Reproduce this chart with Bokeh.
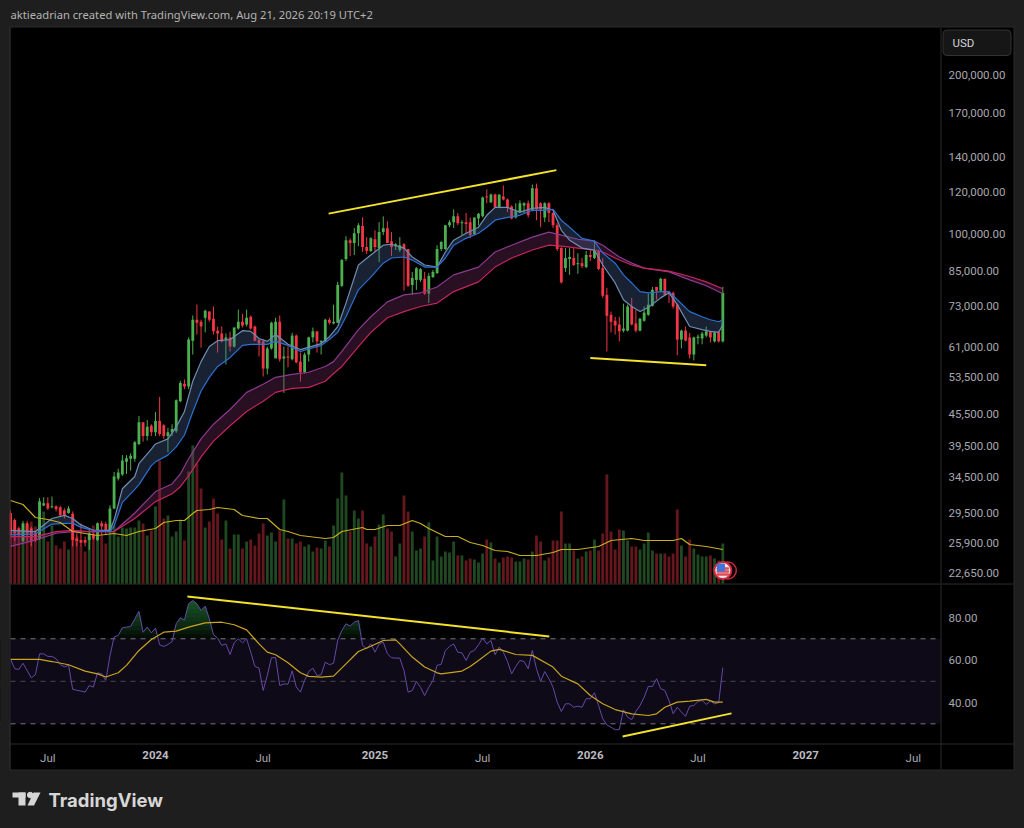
from bokeh.plotting import figure
from bokeh.layouts import column
from bokeh.models import ColumnDataSource, Range1d, LinearScale, FixedTicker, NumeralTickFormatter, LinearAxis
from bokeh.core.properties import value
from bokeh.embed import file_html
from bokeh.resources import INLINE

# ---- weekly bars: index 0 is the week of 1 Jan 2024
first_week = -35
opens = [29.5,28.6,27.6,26.1,28.2,27.6,27.0,26.4,30.5,30.8,30.25,30.4,30.25,29.85,29.5,29.4,26.4,26.2,26.2,26.2,26.8,26.2,28.2,28.1,
 27.2,30.1,34.3,34.9,36.9,37.4,37.4,39.9,43.9,41.3,43.2,42.0,44.1,43.3,41.3,42.0,42.2,48.1,51.9,51.3,62.7,68.7,68.1,69.3,71.2,69.0,65.5,64.7,
 63.0,63.6,61.1,66.1,68.1,67.3,69.6,66.7,63.0,62.5,55.5,60.6,58.0,68.1,58.0,58.5,57.8,64.1,57.2,54.6,59.0,63.6,65.3,62.2,62.5,68.7,67.6,67.8,
 79.7,89.6,97.3,96.1,100.3,103.5,94.4,92.8,97.7,94.0,100.8,102.5,96.9,94.8,93.2,95.6,93.6,80.0,81.8,81.8,82.2,77.0,82.8,84.3,93.6,93.6,
 103.9,105.3,108.0,104.8,105.3,105.3,99.9,107.0,108.0,117.8,114.9,118.8,112.4,117.8,116.3,112.8,107.5,110.0,113.3,114.4,110.9,122.1,114.4,107.5,114.4,
 109.6,103.9,94.0,86.1,89.6,90.0,87.6,88.0,86.5,91.2,90.0,92.8,86.1,76.6,70.2,68.4,67.3,65.5,65.5,72.8,67.6,65.5,68.4,70.2,73.0,79.3,78.0,82.2,77.7,77.3,
 73.4,63.0,65.5,63.6,59.0,63.4,63.3,64.1,65.3,62.5,65.0,62.5]
highs = [29.85,28.8,27.8,28.5,28.5,27.8,27.2,31.5,31.6,31.6,31.7,30.5,30.4,30.1,30.4,29.7,27.0,28.2,26.6,27.6,27.0,28.3,28.5,28.4,
 30.5,35.3,35.8,38.0,38.0,38.3,40.4,45.1,43.9,44.3,43.5,45.9,49.0,43.5,42.8,43.5,48.5,52.6,52.9,63.6,70.0,73.4,68.7,71.8,71.2,72.8,66.7,66.7,
 64.7,65.2,66.4,71.8,70.5,71.8,70.0,67.0,63.0,63.0,61.1,68.1,69.3,70.0,61.1,61.1,64.9,64.4,59.5,59.5,63.8,66.4,65.3,62.7,69.0,69.3,73.4,81.1,
 89.6,99.0,98.1,102.6,104.8,107.5,98.6,98.6,101.6,105.3,108.0,105.7,100.8,96.1,98.6,96.1,93.6,84.7,86.5,86.1,84.7,84.3,85.4,95.2,96.9,103.9,
 106.2,111.3,109.6,106.2,109.6,107.5,107.5,109.6,117.8,121.5,119.3,119.3,118.8,123.6,116.8,113.3,114.4,115.8,114.9,115.8,124.1,124.6,114.9,114.9,114.9,
 110.0,104.8,94.4,94.0,94.0,94.0,91.9,90.0,92.8,93.2,97.3,93.2,90.0,79.0,71.2,69.6,69.6,73.7,73.4,75.6,71.8,69.3,72.8,77.0,79.3,79.3,82.5,82.2,78.0,77.7,
 73.7,65.8,66.7,64.9,63.8,64.4,65.2,66.7,65.3,65.3,65.5,79.3]
lows = [26.4,26.1,26.7,25.9,26.1,25.5,26.0,26.2,30.4,29.9,30.1,29.7,29.1,28.8,29.4,25.5,25.5,25.5,25.5,25.1,26.2,26.1,26.8,26.8,
 27.1,30.0,34.0,34.7,35.0,35.5,36.9,39.7,40.3,40.5,41.3,41.3,41.3,40.8,38.5,41.3,41.9,47.9,50.7,50.7,59.0,64.4,60.8,65.0,68.1,64.4,59.5,62.2,
 56.5,59.8,60.8,65.8,66.4,66.7,65.8,62.5,58.5,53.6,54.1,60.3,60.3,57.2,49.9,55.8,57.5,56.8,52.4,54.3,57.2,62.2,59.5,59.0,62.2,67.3,67.3,67.8,
 79.3,88.8,90.8,91.2,94.8,92.4,91.6,92.4,92.4,88.4,99.5,96.1,90.8,93.2,92.4,78.0,79.3,76.6,78.3,81.1,76.6,73.9,82.5,83.9,92.8,93.2,
 103.0,102.6,103.9,99.5,100.3,98.1,99.5,103.9,107.5,114.4,114.4,111.9,111.9,115.8,110.0,106.6,107.0,109.6,109.6,107.5,110.4,106.2,103.0,105.3,105.3,
 102.6,92.8,80.5,84.7,83.6,86.9,84.0,86.1,86.1,88.8,89.6,85.4,75.6,59.8,65.0,64.4,62.5,65.0,65.3,67.0,65.0,65.3,68.1,69.9,72.8,75.0,77.7,76.3,73.9,72.1,
 58.8,60.6,62.5,58.0,57.5,61.7,61.7,63.6,62.2,62.2,62.2,62.2]
closes = [26.8,27.0,26.8,28.2,27.0,26.1,26.2,31.0,30.8,30.1,30.4,30.0,29.2,29.1,30.1,26.2,26.1,25.9,25.9,27.0,26.4,28.2,27.8,27.2,
 30.1,34.6,35.2,37.1,37.5,37.9,40.2,43.9,41.3,43.0,42.0,44.1,41.7,41.3,42.0,42.6,48.3,52.1,51.3,63.0,68.7,67.8,66.7,71.5,68.7,65.3,64.7,62.5,
 63.6,61.1,66.4,68.1,67.0,69.3,66.1,62.7,61.9,55.5,60.6,67.8,68.1,57.8,58.5,58.2,64.1,57.0,54.6,59.0,63.6,65.3,62.5,62.7,68.7,67.8,68.1,80.0,
 89.2,97.3,96.1,100.3,103.9,94.4,92.8,98.1,94.4,100.8,102.5,96.1,94.4,95.6,95.2,93.6,79.7,82.5,86.1,85.7,77.0,83.2,84.7,93.6,96.5,103.9,
 105.3,108.0,104.8,105.3,104.4,99.5,107.5,109.2,117.3,117.3,118.8,112.4,118.8,116.3,112.3,107.0,110.4,114.4,114.4,108.5,122.1,111.4,111.4,114.4,109.6,
 103.9,93.6,80.9,90.0,90.4,87.3,88.0,86.9,91.2,90.4,92.8,85.8,76.3,69.9,68.1,67.0,65.3,66.1,72.8,67.3,65.5,69.0,70.9,73.4,78.3,78.0,82.2,76.6,77.0,72.8,
 63.0,65.5,62.7,59.0,63.6,63.8,64.7,65.3,63.6,65.0,62.5,77.3]
volumes = [68,60,52,58,60,62,57,83,72,42,58,38,35,42,34,63,47,38,32,47,58,47,48,40,60,58,47,56,55,56,56,63,60,48,53,77,123,65,68,47,52,64,43,112,138,120,95,56,62,85,70,44,
 63,35,49,49,35,42,44,38,50,60,48,51,42,53,84,45,45,40,42,37,39,32,36,35,43,37,58,85,111,88,52,73,65,73,40,37,47,59,69,55,52,27,40,88,72,52,33,35,47,61,23,47,27,32,31,42,28,28,
 23,25,24,21,30,44,41,25,21,26,27,26,22,22,25,24,32,48,42,23,26,43,43,72,40,40,33,25,27,32,33,44,33,50,109,52,34,54,53,43,37,37,34,40,51,33,30,30,30,27,30,74,38,27,44,35,29,27,27,28,25,23,40]
vol_ma_idx = [-35,-32,-29,-26,-23,-20,-17,-14,-10,-7,-4,0,2,5,7,9,10,13,15,19,21,25,27,30,32,35,39,41,43,45,50,51,53,56,59,62,64,66,70,73,76,79,82,85,88,92,96,98,102,107,110,115,118,125,127,129,133,137]
vol_ma = [83,79,66,64,61,52,50,48,50,48,52,55,61,63,63,70,73,74,76,74,68,65,65,54,52,48,46,45,46,52,56,54,54,58,58,63,60,55,47,47,41,38,33,32,28,28,31,34,34,37,43,45,43,43,45,39,37,34]

# ---- moving-average ribbons (thousand USD)
fast_idx = [-35,-29,-25,-22,-20,-18,-15,-11,-10,-8,-5,-4,-1,0,3,5,7,9,11,13,15,18,21,23,25,27,29,32,35,40,42,44,46,49,52,55,57,60,62,65,68,70,72,75,78,80,82,85,88,91,94,96,98,100,103,106,108,111,113,115,117,119,122,124,126,129,132,134,136,137]
fast_light = [27.35,27.2,28.8,29.2,28.8,28.0,27.35,27.35,28.6,32.8,34.6,36.6,39.0,39.9,40.8,43.0,46.0,52.5,57.2,61.1,62.7,63.0,65.5,65.3,63.3,62.5,64.4,61.7,60.3,61.9,63.8,66.7,73.9,87.3,91.2,95.2,95.6,94.0,90.4,87.3,86.5,92.4,97.3,100.3,103.0,108.5,112.3,112.3,110.0,111.9,112.3,110.9,101.6,97.3,94.0,93.2,87.3,80.7,75.0,72.8,71.2,72.5,75.6,77.3,73.4,66.7,65.8,65.3,65.0,67.3]
fast_blue = [26.8,26.9,28.1,28.2,28.2,27.7,27.35,27.2,27.85,30.9,32.7,33.4,36.3,36.9,38.0,39.4,41.5,45.9,50.3,53.4,56.0,58.2,61.4,61.7,61.7,61.7,62.5,61.4,59.8,61.4,63.0,65.0,69.6,78.3,82.8,88.0,90.0,90.4,89.2,86.5,86.5,90.0,95.2,98.1,100.3,103.0,106.2,107.5,108.5,110.9,110.9,111.4,106.2,103.0,98.1,96.9,92.0,88.0,83.6,80.7,77.7,77.3,77.7,77.7,75.0,71.2,69.6,68.7,68.1,68.7]
slow_idx = [-35,-29,-24,-20,-16,-10,-5,0,4,6,8,11,14,18,22,26,29,33,37,41,43,45,49,52,56,60,64,68,72,78,82,86,91,95,98,102,106,108,112,115,118,124,129,133,137]
slow_purple = [25.5,26.2,27.0,27.2,27.2,27.2,29.5,32.4,33.5,35.0,37.4,40.8,43.5,46.4,50.0,51.8,53.4,54.1,54.6,56.0,57.2,59.8,65.8,69.6,74.3,76.6,77.3,79.3,83.6,86.5,92.4,95.2,98.6,100.8,99.5,97.7,96.9,95.2,90.4,88.0,86.1,84.7,81.8,79.7,77.0]
slow_pink = [26.6,26.6,27.2,27.35,27.2,27.2,28.8,31.0,32.1,33.1,34.7,37.7,40.4,43.2,46.0,48.1,50.0,50.9,51.1,52.5,54.3,56.0,61.1,65.0,69.3,71.2,72.8,73.9,77.7,81.1,86.5,90.0,93.2,95.2,94.8,94.0,93.2,92.4,89.2,87.3,86.1,85.0,83.0,81.1,78.7]

# ---- RSI
rsi = [60.3,55.9,55.6,58.5,55.1,51.6,53.1,62.9,62.9,61.7,61.7,60.6,57.9,56.8,57.5,46.2,45.8,45.4,44.9,48.0,47.3,54.0,53.5,50.4,62.0,70.8,71.6,75.2,75.5,75.8,79.4,82.9,73.1,75.5,72.8,
 75.0,67.2,66.4,67.3,68.7,77.1,79.9,78.9,86.5,88.0,86.5,83.3,85.4,79.4,71.9,70.3,66.9,67.6,62.6,68.1,70.0,68.1,70.0,63.7,57.0,56.2,45.7,52.7,61.1,61.1,48.0,48.7,48.7,54.9,47.3,44.9,50.4,54.6,56.2,52.7,53.1,59.0,57.8,58.5,69.2,
 73.9,77.1,76.0,77.8,78.6,66.9,65.3,67.6,63.7,67.6,68.4,62.9,61.1,60.9,60.9,55.1,44.9,45.6,50.0,47.2,43.3,47.2,50.4,57.5,58.0,64.5,66.4,67.6,63.7,63.4,59.8,63.7,64.5,67.2,70.3,67.6,69.2,62.5,66.1,63.7,59.3,53.5,57.0,59.8,59.3,55.9,64.5,55.9,50.0,54.6,51.2,47.2,
 40.2,35.8,39.4,39.4,37.8,38.3,37.8,41.8,41.8,44.6,38.6,32.4,29.5,28.4,27.2,27.3,36.6,33.1,32.0,35.8,38.6,42.5,47.6,47.6,51.2,46.5,45.7,41.0,34.7,37.8,35.5,33.5,38.3,38.6,40.5,41.0,39.1,40.7,39.4,39.9,56.4]
rsi_ma_idx = [-35,-28,-25,-21,-17,-14,-12,-9,-7,-4,-1,2,5,8,12,16,19,22,25,27,29,32,35,37,40,43,46,49,52,55,58,59,62,65,68,69,74,76,78,81,83,87,91,96,98,102,105,108,111,115,119,121,123,126,129,133,135,137]
rsi_ma = [60.3,60.3,59.3,57.8,54.8,53.5,52.0,54.0,57.5,64.5,69.7,73.1,73.6,75.5,77.5,77.8,76.6,74.2,67.6,63.7,62.5,58.7,54.0,52.3,52.0,52.4,58.2,64.0,66.5,69.2,69.5,67.6,61.4,56.7,54.0,53.5,54.8,57.0,59.8,64.2,65.0,62.6,62.2,56.7,52.4,48.8,43.3,39.4,36.7,34.7,33.9,34.7,37.8,40.2,40.7,41.5,40.2,40.2]
rsi_levels = [70, 50, 30]

# ---- drawn trend lines
price_trends = [([41.8, 96.8], [109.3, 132.2]), ([105.0, 133.0], [58.1, 56.3])]
rsi_trends = [([7.7, 95.1], [89.9, 71.1]), ([112.8, 139.1], [24.0, 34.9])]

# ---- axis ticks
price_ticks = [200000,170000,140000,120000,100000,85000,73000,61000,53500,45500,39500,34500,29500,25900,22650]
rsi_ticks = [80, 60, 40]
month_ticks = {-26: "Jul", 26: "Jul", 79: "Jul", 131: "Jul", 183: "Jul"}
year_ticks = {0: "2024", 53: "2025", 105: "2026", 157: "2027"}
header = "aktieadrian created with TradingView.com, Aug 21, 2026 20:19 UTC+2"
event_idx = 137

BG = "#1e1e1e"; SEP = "#2b2b2b"; UP = "#4caf50"; DOWN = "#f23645"
AXTXT = "#a8a8ac"; FONT = "Roboto"; AX_X = 189.57

n = len(closes)
xs = [first_week + i for i in range(n)]
assert len(opens) == len(highs) == len(lows) == n == len(volumes) == len(rsi)
k = lambda a: [v * 1000 for v in a]
def side(keep):
    ids = [i for i in range(n) if keep(opens[i], closes[i])]
    return ColumnDataSource(dict(x=[xs[i] for i in ids], o=[opens[i]*1000 for i in ids], c=[closes[i]*1000 for i in ids],
                                 h=[highs[i]*1000 for i in ids], l=[lows[i]*1000 for i in ids], v=[volumes[i] for i in ids]))
up_src = side(lambda o, c: c >= o)
dn_src = side(lambda o, c: c < o)

x_range = Range1d(-37.43, 209.85)
PXA = dict(x_range_name="px", y_range_name="px")

def box(fig, l, t, r_, b, col, **kw):
    fig.quad(left=[l], right=[r_], top=[t], bottom=[b], fill_color=col, line_alpha=0, **PXA, **kw)

# ---------- price pane (frame covers page y 0..584, decorations use page pixels)
p = figure(width=1024, height=584, output_backend="svg", toolbar_location=None, y_axis_type="log",
           x_axis_location=None, y_axis_location="right", x_range=x_range, y_range=Range1d(21576, 277660),
           min_border_left=0, min_border_right=0, min_border_top=0, min_border_bottom=0)
p.background_fill_color = BG; p.border_fill_color = BG; p.outline_line_color = None
p.grid.visible = False
p.extra_y_ranges = {"vol": Range1d(-1, 583), "px": Range1d(584, 0)}
p.extra_y_scales = {"vol": LinearScale(), "px": LinearScale()}
p.extra_x_ranges = {"px": Range1d(0, 1024)}

ax = p.yaxis[0]
ax.fixed_location = AX_X
ax.ticker = FixedTicker(ticks=price_ticks)
ax.formatter = NumeralTickFormatter(format="0,0.00")
ax.major_tick_line_color = None; ax.minor_tick_line_color = None
ax.major_tick_out = 0; ax.major_label_standoff = 8
ax.axis_line_color = None
ax.major_label_text_color = AXTXT; ax.major_label_text_font = FONT; ax.major_label_text_font_size = "11.5px"

box(p, 9, 26, 1014, 584, SEP)
box(p, 10, 27, 1013, 583, "#000000")

p.vbar("x", 0.68, 0, "v", source=up_src, y_range_name="vol", color=UP, fill_alpha=0.42, line_alpha=0)
p.vbar("x", 0.68, 0, "v", source=dn_src, y_range_name="vol", color=DOWN, fill_alpha=0.42, line_alpha=0)

p.segment("x", "l", "x", "h", source=up_src, color=UP, line_width=1)
p.segment("x", "l", "x", "h", source=dn_src, color=DOWN, line_width=1)
p.vbar("x", 0.68, "o", "c", source=up_src, color=UP, line_alpha=0)
p.vbar("x", 0.68, "o", "c", source=dn_src, color=DOWN, line_alpha=0)

p.varea(slow_idx, k(slow_purple), k(slow_pink), fill_color="#7f2f6a", fill_alpha=0.32)
p.line(slow_idx, k(slow_purple), color="#8c3a90", line_width=1.2)
p.line(slow_idx, k(slow_pink), color="#c4265e", line_width=1.2)
p.varea(fast_idx, k(fast_light), k(fast_blue), fill_color="#4a6a9c", fill_alpha=0.32)
p.line(fast_idx, k(fast_light), color="#6f8db0", line_width=1.2)
p.line(fast_idx, k(fast_blue), color="#2d6fd2", line_width=1.2)

p.line(vol_ma_idx, vol_ma, y_range_name="vol", color="#c9ae20", line_width=1.2)

for tx, ty in price_trends:
    p.line(tx, k(ty), color="#f4e22c", line_width=2)

# event marker
p.scatter([event_idx + 1.2], [13], y_range_name="vol", size=17, fill_alpha=0, line_color="#c9283c", line_width=1.5)
p.scatter([event_idx], [13], y_range_name="vol", size=17, fill_color="#e8e8f4", line_color="#d62a3c", line_width=2)
p.hbar([9, 12, 15], 1.4, [event_idx - 1.4]*3, [event_idx + 1.4]*3, y_range_name="vol", color="#e04a55")
p.scatter([event_idx - 0.45], [16], y_range_name="vol", size=7, marker="square", color="#3f74d8")

# right scale decorations
box(p, 0, 26, 9, 584, BG)
box(p, 9, 26, 10, 584, SEP)
box(p, 940, 27, 941, 583, SEP)
p.quad(left=[942.5], right=[1010.5], top=[29.5], bottom=[55], fill_color="#161616", line_color="#333333", line_width=1, border_radius=4, **PXA)
p.text(x=[952], y=[42], text=["USD"], text_color="#d1d4dc", text_font=value(FONT), text_font_size="11.5px", text_baseline="middle", **PXA)
p.text(x=[10], y=[14], text=[header], text_color="#b4b4b4", text_font=value("Noto Sans"), text_font_size="11.2px", text_baseline="middle", **PXA)

# ---------- RSI pane + time scale + footer (page y 584..828)
r = figure(width=1024, height=244, output_backend="svg", toolbar_location=None,
           y_axis_location="right", x_range=x_range, y_range=Range1d(-19.27, 95.55),
           min_border_left=0, min_border_right=0, min_border_top=0, min_border_bottom=0)
r.background_fill_color = BG; r.border_fill_color = BG; r.outline_line_color = None
r.grid.visible = False
r.extra_y_ranges = {"px": Range1d(828, 584)}
r.extra_x_ranges = {"px": Range1d(0, 1024)}

ay = r.yaxis[0]
ay.fixed_location = AX_X
ay.ticker = FixedTicker(ticks=rsi_ticks)
ay.formatter = NumeralTickFormatter(format="0.00")
ay.major_tick_line_color = None; ay.minor_tick_line_color = None
ay.major_tick_out = 0; ay.major_label_standoff = 8
ay.axis_line_color = None
ay.major_label_text_color = AXTXT; ay.major_label_text_font = FONT; ay.major_label_text_font_size = "11.5px"

def style_time(a, ticks, color, weight):
    a.fixed_location = 20.73
    a.ticker = FixedTicker(ticks=list(ticks))
    a.major_label_overrides = ticks
    a.major_tick_line_color = None; a.minor_tick_line_color = None
    a.major_tick_out = 0; a.major_label_standoff = 8
    a.axis_line_color = None
    a.major_label_text_color = color; a.major_label_text_font = FONT
    a.major_label_text_font_size = "11.5px"; a.major_label_text_font_style = weight
style_time(r.xaxis[0], month_ticks, AXTXT, "normal")
year_axis = LinearAxis()
style_time(year_axis, year_ticks, "#bcbcc0", "bold")
r.add_layout(year_axis, "below")

box(r, 9, 584, 1014, 770, SEP)
box(r, 10, 584, 1013, 769, "#000000")
r.quad(left=[first_week - 2.43], right=[AX_X], bottom=[rsi_levels[2]], top=[rsi_levels[0]], fill_color="#0e0a17", line_alpha=0)
# overbought glow, stacked so it brightens towards the peaks
for thr in range(70, 90, 2):
    r.varea(xs, [thr]*n, [max(v, thr) for v in rsi], fill_color="#2e8b3e", fill_alpha=0.09)
for lv, col in zip(rsi_levels, ["#77777f", "#4a4a50", "#77777f"]):
    r.line([first_week - 2.43, AX_X], [lv, lv], color=col, line_width=1, line_dash="5 5")
r.line(xs, rsi, color="#654aa8", line_width=1)
r.line(rsi_ma_idx, rsi_ma, color="#c9a51f", line_width=1.2)
for tx, ty in rsi_trends:
    r.line(tx, ty, color="#f4e22c", line_width=2)
box(r, 940, 584, 941, 769, SEP)
box(r, 10, 743, 1013, 744, SEP)
box(r, 0, 584, 9, 770, BG)
box(r, 9, 584, 10, 770, SEP)

# TradingView footer
LOGO = "#d6d6d6"
box(r, 12, 792, 25, 797, LOGO)
box(r, 18, 792, 25, 805, LOGO)
r.scatter([29.7], [794.5], size=5.5, color=LOGO, **PXA)
r.patch([33, 40, 33.5, 27], [792, 792, 805, 805], color=LOGO, line_alpha=0, **PXA)
r.text(x=[48], y=[799.5], text=["TradingView"], text_color=LOGO, text_font=value("Inter"), text_font_size="18.5px", text_font_style="bold", text_baseline="middle", **PXA)

root = column(p, r, spacing=0)
html = file_html(root, INLINE)
html = html.replace("</head>", "<style>html,body{background:#1e1e1e;margin:0;overflow:hidden}</style></head>", 1)
open("out.html", "w").write(html)
